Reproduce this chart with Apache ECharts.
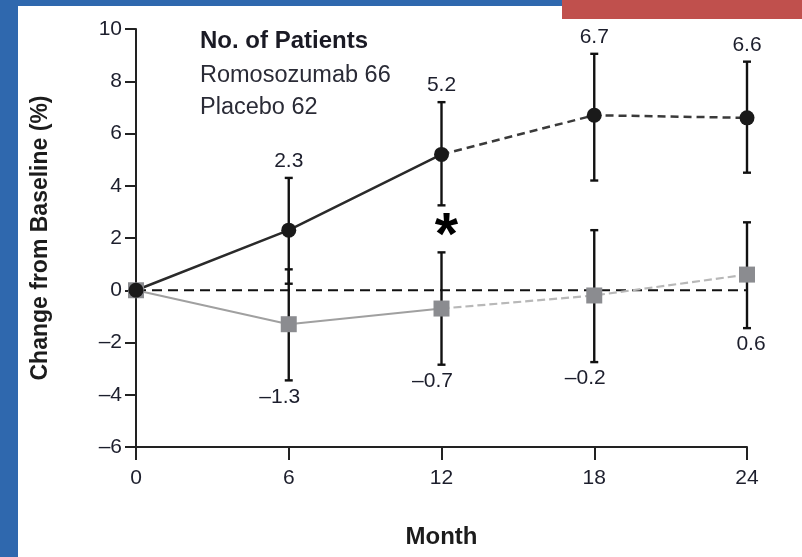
<!DOCTYPE html>
<html>
<head>
<meta charset="utf-8">
<script src="https://cdn.jsdelivr.net/npm/echarts@6/dist/echarts.min.js"></script>
<style>
  html, body { margin: 0; padding: 0; background: #ffffff; }
  #chart { width: 802px; height: 557px; }
</style>
</head>
<body>
<div id="chart"></div>
<script>
// ---- data ----
const months = [0, 6, 12, 18, 24];
const romoMean = [0, 2.3, 5.2, 6.7, 6.6];
const romoLow = [null, 0.25, 3.25, 4.2, 4.5];
const romoHigh = [null, 4.3, 7.2, 9.05, 8.75];
const placeboMean = [0, -1.3, -0.7, -0.2, 0.6];
const placeboLow = [null, -3.45, -2.85, -2.75, -1.45];
const placeboHigh = [null, 0.8, 1.45, 2.3, 2.6];
const legendLines = ['No. of Patients', 'Romosozumab 66', 'Placebo 62'];
const xTicks = [0, 6, 12, 18, 24];
const yTickMin = -6, yTickMax = 10, yTickStep = 2;
const solidUntil = 12;            // lines are solid up to month 12, dashed after
const asteriskPoint = [12, 2.5];  // significance marker

const FONT = "'Liberation Sans', Arial, sans-serif";
const TXT = '#1c1e2c';
const fmt = v => v < 0 ? '\u2013' + Math.abs(v).toFixed(1) : v.toFixed(1);
const fmtTick = v => v < 0 ? '\u2013' + Math.abs(v) : String(v);

const pairs = (xs, ys, pred) => xs.map((x, i) => [x, ys[i]]).filter(p => pred(p[0]));
const errData = (lo, hi) => months.map((m, i) => [m, lo[i], hi[i]]).filter(d => d[1] != null);

function errorBarSeries(lo, hi) {
  return {
    type: 'custom',
    z: 4,
    data: errData(lo, hi),
    renderItem: function (params, api) {
      const x = api.value(0);
      const pLo = api.coord([x, api.value(1)]);
      const pHi = api.coord([x, api.value(2)]);
      const hw = 4;
      const st = { stroke: '#111', lineWidth: 2.4 };
      return {
        type: 'group',
        children: [
          { type: 'line', shape: { x1: pLo[0], y1: pLo[1], x2: pHi[0], y2: pHi[1] }, style: st },
          { type: 'line', shape: { x1: pLo[0] - hw, y1: pLo[1], x2: pLo[0] + hw, y2: pLo[1] }, style: st },
          { type: 'line', shape: { x1: pHi[0] - hw, y1: pHi[1], x2: pHi[0] + hw, y2: pHi[1] }, style: st }
        ]
      };
    }
  };
}

const labelStyle = { fontFamily: FONT, fontSize: 21, color: TXT };

const chart = echarts.init(document.getElementById('chart'), null, { renderer: 'canvas' });
chart.setOption({
  backgroundColor: '#ffffff',
  animation: false,
  grid: { left: 136, right: 55, top: 29, bottom: 110, containLabel: false, outerBoundsMode: 'none' },
  graphic: [
    { type: 'rect', shape: { x: 0, y: 0, width: 562, height: 6 }, style: { fill: '#2f68ae' }, z: 100 },
    { type: 'rect', shape: { x: 0, y: 0, width: 18, height: 557 }, style: { fill: '#2f68ae' }, z: 100 },
    { type: 'rect', shape: { x: 562, y: 0, width: 240, height: 19 }, style: { fill: '#c0504d' }, z: 100 },
    { type: 'text', x: 200, y: 41, style: { text: legendLines[0], font: 'bold 24px ' + FONT, fill: '#1a1a24', verticalAlign: 'middle', align: 'left' } },
    { type: 'text', x: 200, y: 76, style: { text: legendLines[1], font: '23.5px ' + FONT, fill: '#2a2b36', verticalAlign: 'middle', align: 'left' } },
    { type: 'text', x: 200, y: 108, style: { text: legendLines[2], font: '23.5px ' + FONT, fill: '#2a2b36', verticalAlign: 'middle', align: 'left' } }
  ],
  xAxis: {
    type: 'value', min: xTicks[0], max: xTicks[xTicks.length - 1], interval: 6,
    name: 'Month', nameLocation: 'middle', nameGap: 78,
    nameTextStyle: { fontFamily: FONT, fontSize: 24, fontWeight: 'bold', color: '#1c1c1c' },
    axisLine: { onZero: false, lineStyle: { color: '#222', width: 2 } },
    axisTick: { length: 13, lineStyle: { color: '#222', width: 2 } },
    axisLabel: { margin: 21, fontFamily: FONT, fontSize: 21, color: TXT },
    splitLine: { show: false }
  },
  yAxis: {
    type: 'value', min: yTickMin, max: yTickMax, interval: yTickStep,
    name: 'Change from Baseline (%)', nameLocation: 'middle', nameGap: 84, nameRotate: 90,
    nameTextStyle: { fontFamily: FONT, fontSize: 23, fontWeight: 'bold', color: '#1c1c1c' },
    axisLine: { show: true, lineStyle: { color: '#222', width: 2 } },
    axisTick: { show: true, length: 11, lineStyle: { color: '#222', width: 2 } },
    axisLabel: { margin: 14, fontFamily: FONT, fontSize: 21, color: TXT, formatter: fmtTick },
    splitLine: { show: false }
  },
  series: [
    // zero reference line
    { type: 'line', z: 1, symbol: 'none', data: [[months[0], 0], [months[months.length - 1], 0]],
      lineStyle: { color: '#111', width: 2, type: [10, 6] } },
    // placebo lines
    { type: 'line', z: 2, symbol: 'none', data: pairs(months, placeboMean, m => m <= solidUntil),
      lineStyle: { color: '#a0a0a0', width: 2 } },
    { type: 'line', z: 2, symbol: 'none', data: pairs(months, placeboMean, m => m >= solidUntil),
      lineStyle: { color: '#b8b8b8', width: 2.2, type: [8, 4] } },
    // romosozumab lines
    { type: 'line', z: 3, symbol: 'none', data: pairs(months, romoMean, m => m <= solidUntil),
      lineStyle: { color: '#2a2a2a', width: 2.5 } },
    { type: 'line', z: 3, symbol: 'none', data: pairs(months, romoMean, m => m >= solidUntil),
      lineStyle: { color: '#3a3a3a', width: 2.5, type: [8, 5] } },
    // error bars
    errorBarSeries(placeboLow, placeboHigh),
    errorBarSeries(romoLow, romoHigh),
    // markers
    { type: 'scatter', z: 5, symbol: 'rect', symbolSize: 16, data: pairs(months, placeboMean, () => true),
      itemStyle: { color: '#8b8c90', opacity: 1 } },
    { type: 'scatter', z: 6, symbol: 'circle', symbolSize: 15, data: pairs(months, romoMean, () => true),
      itemStyle: { color: '#1a1a1a', opacity: 1 } },
    // value labels (above romosozumab bars, below placebo bars)
    { type: 'scatter', z: 7, symbolSize: 0, silent: true, itemStyle: { opacity: 1 },
      data: months.map((m, i) => ({ value: [m, romoHigh[i]], mean: romoMean[i] })).filter(d => d.value[1] != null),
      label: { show: true, position: 'top', distance: 6, ...labelStyle,
        formatter: p => fmt(p.data.mean) } },
    { type: 'scatter', z: 7, symbolSize: 0, silent: true, itemStyle: { opacity: 1 },
      data: months.map((m, i) => ({ value: [m, placeboLow[i]], mean: placeboMean[i],
        label: { offset: [placeboMean[i] < 0 ? -9 : 4, 0] } })).filter(d => d.value[1] != null),
      label: { show: true, position: 'bottom', distance: 6, ...labelStyle,
        formatter: p => fmt(p.data.mean) } },
    // asterisk
    { type: 'scatter', z: 7, symbolSize: 0, silent: true, itemStyle: { opacity: 1 }, data: [asteriskPoint],
      label: { show: true, position: 'inside', offset: [5, 13], formatter: '*',
        fontFamily: FONT, fontSize: 60, fontWeight: 'bold', color: '#000' } }
  ]
});
</script>
</body>
</html>
